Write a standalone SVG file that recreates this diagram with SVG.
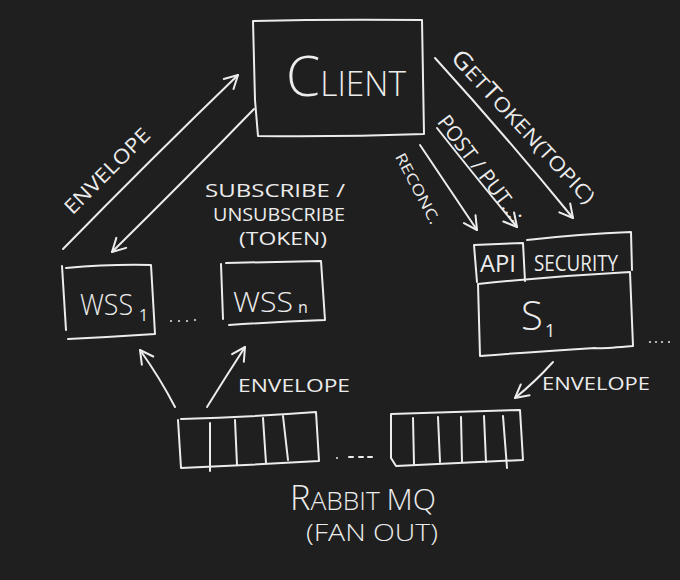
<svg xmlns="http://www.w3.org/2000/svg" width="680" height="580" viewBox="0 0 680 580">
<style>
.bg{fill:#1f1f1f}
.ln{fill:none;stroke:#ececec;stroke-width:2;stroke-linecap:round;stroke-linejoin:round}
.tx{fill:#ececec;font-family:"Open Sans","DejaVu Sans",sans-serif;font-weight:400}
.dot{fill:#d8d8d8}
</style>
<defs>
<marker id="ah" viewBox="-15 -9 17 18" refX="0" refY="0" markerWidth="17" markerHeight="18" markerUnits="userSpaceOnUse" orient="auto">
<path d="M-13,-7 L0,0 L-13,7" fill="none" stroke="#ececec" stroke-width="2" stroke-linecap="round" stroke-linejoin="round"/>
</marker>
</defs>
<rect class="bg" x="0" y="0" width="680" height="580"/>

<g id="client">
<path class="ln" d="M253,21 Q330,19 422,20 L424,134 Q340,137 258,136 L255,100 Z"/>
<text class="tx" x="286" y="96" textLength="120" lengthAdjust="spacingAndGlyphs" style="font-weight:300"><tspan font-size="56">C</tspan><tspan font-size="34">LIENT</tspan></text>
</g>

<g id="wss1">
<path class="ln" d="M66,268 Q110,264 151,265 L155,334 Q110,337 68,339 M62,266 L66,330"/>
<text class="tx" x="80" y="315" font-size="29" textLength="53" lengthAdjust="spacingAndGlyphs" style="font-weight:300">WSS</text>
<text class="tx" x="139" y="321" font-size="16">1</text>
</g>

<g id="wssn">
<path class="ln" d="M226,263 Q275,262 321,261 L325,320 Q275,322 229,325 M221,264 L223,319"/>
<text class="tx" x="233" y="312" font-size="27" textLength="60" lengthAdjust="spacingAndGlyphs" style="font-weight:300">WSS</text>
<text class="tx" x="298" y="313" font-size="16">n</text>
</g>

<g id="s1">
<path class="ln" d="M474,245 L523,243 L525,281 M474,245 L477,282"/>
<path class="ln" d="M527,240 Q580,234 631,232 L632,270 M478,284 Q555,276 630,272 L633,346 Q600,349 595,348 Q530,352 480,356 L478,284"/>
<text class="tx" x="480" y="272" font-size="24" textLength="36" lengthAdjust="spacingAndGlyphs">API</text>
<text class="tx" x="534" y="271" font-size="22" textLength="84" lengthAdjust="spacingAndGlyphs">SECURITY</text>
<text class="tx" x="521" y="330" font-size="40" style="font-weight:300">S</text>
<text class="tx" x="545" y="337" font-size="18">1</text>
</g>

<g id="queue1">
<path class="ln" d="M181,419 Q250,417 316,412 L319,461 Q250,465 181,468 L178,420"/>
<path class="ln" d="M210,423 L210,471 M235,420 L237,465 M263,418 L266,463 M283,416 L288,460"/>
</g>

<g id="queue2">
<path class="ln" d="M391,414 Q455,412 520,410 L523,460 Q460,463 396,466 L391,458 Z"/>
<path class="ln" d="M413,418 L414,464 M438,417 L440,462 M461,417 L462,462 M484,416 L486,462 M503,416 L507,468"/>
</g>

<g id="rabbitmq">
<text class="tx" x="290" y="510" font-size="26" textLength="146" lengthAdjust="spacingAndGlyphs" style="font-weight:300"><tspan font-size="34">R</tspan>ABBIT <tspan font-size="30">MQ</tspan></text>
<text class="tx" x="306" y="541" font-size="24" textLength="132" lengthAdjust="spacingAndGlyphs" style="font-weight:300">(FAN OUT)</text>
</g>

<g id="labels">
<text class="tx" x="275" y="197" font-size="19" text-anchor="middle" textLength="140" lengthAdjust="spacingAndGlyphs">SUBSCRIBE /</text>
<text class="tx" x="279" y="221" font-size="19" text-anchor="middle" textLength="132" lengthAdjust="spacingAndGlyphs">UNSUBSCRIBE</text>
<text class="tx" x="283" y="245" font-size="19" text-anchor="middle" textLength="88" lengthAdjust="spacingAndGlyphs">(TOKEN)</text>
<text class="tx" x="238" y="392" font-size="18" textLength="112" lengthAdjust="spacingAndGlyphs">ENVELOPE</text>
<text class="tx" x="542" y="390" font-size="18" textLength="108" lengthAdjust="spacingAndGlyphs">ENVELOPE</text>
<text class="tx" transform="translate(112,176) rotate(-45)" font-size="20" text-anchor="middle" textLength="112" lengthAdjust="spacingAndGlyphs">ENVELOPE</text>
<text class="tx" transform="translate(518,132) rotate(47)" font-size="20" text-anchor="middle" textLength="200" lengthAdjust="spacingAndGlyphs"><tspan font-size="24">G</tspan>ET<tspan font-size="24">T</tspan>OKEN(TOPIC)</text>
<text class="tx" transform="translate(475,173) rotate(53)" font-size="21" text-anchor="middle" textLength="128" lengthAdjust="spacingAndGlyphs">POST / PUT...:</text>
<text class="tx" transform="translate(413,191) rotate(62)" font-size="15" text-anchor="middle" textLength="78" lengthAdjust="spacingAndGlyphs">RECONC.</text>
</g>

<g id="dots">
<circle class="dot" cx="171" cy="321" r="1.1"/><circle class="dot" cx="179" cy="321" r="1.1"/><circle class="dot" cx="187" cy="321" r="1.1"/><circle class="dot" cx="195" cy="320" r="1.1"/>
<circle class="dot" cx="337" cy="458" r="1.1"/><path class="ln" stroke-width="1.5" d="M349,457 L353,457 M359,457 L363,457 M368,457 L372,457"/>
<circle class="dot" cx="650" cy="342" r="1.1"/><circle class="dot" cx="656" cy="342" r="1.1"/><circle class="dot" cx="662" cy="342" r="1.1"/><circle class="dot" cx="669" cy="342" r="1.1"/>
</g>

<g id="connectors">
<path class="ln" marker-end="url(#ah)" d="M63,249 Q150,160 238,75"/>
<path class="ln" marker-end="url(#ah)" d="M254,109 Q185,180 112,252"/>
<path class="ln" marker-end="url(#ah)" d="M435,58 Q505,135 573,218"/>
<path class="ln" marker-end="url(#ah)" d="M437,128 Q478,180 517,227"/>
<path class="ln" marker-end="url(#ah)" d="M420,145 Q450,190 477,230"/>
<path class="ln" marker-end="url(#ah)" d="M175,407 Q160,378 140,350"/>
<path class="ln" marker-end="url(#ah)" d="M207,407 Q225,378 245,347"/>
<path class="ln" marker-end="url(#ah)" d="M553,362 Q535,382 515,398"/>
</g>
</svg>
